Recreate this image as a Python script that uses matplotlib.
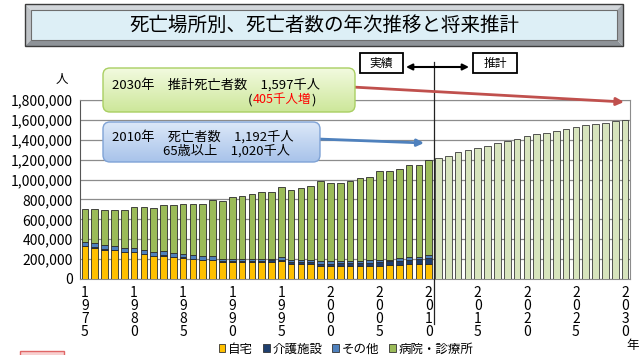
import numpy as np
import matplotlib.pyplot as plt
from matplotlib.patches import Rectangle, FancyBboxPatch, Patch, Polygon
from matplotlib.colors import LinearSegmentedColormap

plt.rcParams['font.family'] = ['Noto Sans CJK JP', 'DejaVu Sans']

# deaths by place (thousands), actual 1975-2010
years_actual = list(range(1975, 2011))
home = [327, 313, 293, 287, 267, 267, 250, 227, 233, 220, 213, 200, 187, 187, 173, 173, 173, 173,
        173, 173, 177, 153, 153, 153, 133, 133, 133, 133, 133, 133, 133, 140, 140, 147, 147, 153]
care = [5, 5, 5, 5, 5, 5, 5, 5, 5, 5, 6, 6, 7, 7, 8, 9, 10, 11,
        12, 14, 18, 18, 19, 20, 21, 22, 23, 25, 27, 30, 33, 36, 42, 48, 50, 55]
other = [41, 49, 42, 41, 35, 35, 32, 35, 39, 35, 28, 34, 33, 33, 19, 18, 17, 16,
         15, 13, 25, 22, 21, 17, 26, 25, 24, 22, 20, 24, 21, 14, 31, 25, 23, 32]
hospital = [329, 336, 350, 363, 383, 416, 433, 445, 463, 480, 505, 511, 524, 566, 589, 620, 630, 657,
            679, 676, 702, 703, 720, 746, 802, 782, 790, 802, 835, 842, 897, 894, 895, 922, 922, 957]

# projected total deaths (thousands), 2011-2030
years_proj = list(range(2011, 2031))
projected = [1220, 1240, 1274, 1297, 1320, 1340, 1365, 1388, 1408, 1435,
             1455, 1471, 1491, 1511, 1529, 1546, 1562, 1572, 1586, 1597]

series_names = ['自宅', '介護施設', 'その他', '病院・診療所']
series_colors = ['#FFC000', '#1F3F6E', '#4F81BD', '#9BBB59']
proj_color = '#D7E4BD'

yticks = list(range(0, 1800001, 200000))
xtick_years = list(range(1975, 2031, 5))

fig = plt.figure(figsize=(6.43, 3.55), dpi=100)
ax = fig.add_axes([80 / 643, 1 - 279 / 355, 550 / 643, 179 / 355])

bottom = np.zeros(len(years_actual))
for vals, col in zip([home, care, other, hospital], series_colors):
    v = np.array(vals) * 1000
    ax.bar(years_actual, v, bottom=bottom, width=0.68, color=col,
           edgecolor='#2b2b2b', linewidth=0.6, zorder=3)
    bottom += v
ax.bar(years_proj, np.array(projected) * 1000, width=0.68, color=proj_color,
       edgecolor='#3a3a3a', linewidth=0.6, zorder=3)

ax.set_xlim(1974.5, 2030.5)
ax.set_ylim(0, 1800000)
ax.set_yticks(yticks)
ax.set_yticklabels([f'{v:,}' for v in yticks], fontsize=10)
ax.set_xticks(xtick_years)
ax.set_xticklabels(['\n'.join(str(y)) for y in xtick_years], fontsize=10, linespacing=0.92)
ax.tick_params(length=0, pad=5)
ax.yaxis.grid(True, color='#8c8c8c', linewidth=0.9, zorder=0)
ax.set_axisbelow(True)
for s in ['top', 'right', 'bottom']:
    ax.spines[s].set_color('#8c8c8c')
ax.spines['left'].set_color('#555555')

# divider between actual and projection
ax.plot([2010.5, 2010.5], [-0.25, 1.215], transform=ax.get_xaxis_transform(),
        color='#222222', linewidth=0.9, clip_on=False, zorder=6)

leg = fig.legend(handles=[Patch(facecolor=c, edgecolor='#333333', linewidth=0.6, label=n)
                          for n, c in zip(series_names, series_colors)],
                 loc='center', bbox_to_anchor=(346 / 643, 1 - 349 / 355), ncol=4, frameon=False,
                 fontsize=9, handlelength=0.55, handleheight=0.55, handletextpad=0.2,
                 columnspacing=0.8, borderpad=0)

# overlay in pixel coordinates for the slide decorations
ov = fig.add_axes([0, 0, 1, 1], zorder=10)
ov.set_xlim(0, 643)
ov.set_ylim(355, 0)
ov.axis('off')


def grad_box(x0, y0, w, h, c_top, c_bot, edge):
    box = FancyBboxPatch((x0, y0), w, h, boxstyle='round,pad=0,rounding_size=7',
                         fc='none', ec=edge, lw=1.0, zorder=5)
    ov.add_patch(box)
    cmap = LinearSegmentedColormap.from_list('g', [c_top, c_bot])
    im = ov.imshow(np.linspace(0, 1, 64)[:, None], extent=(x0, x0 + w, y0 + h, y0),
                   cmap=cmap, aspect='auto', zorder=4)
    im.set_clip_path(box)


# title bar
ov.add_patch(Polygon([(25, 4), (623, 4), (617, 10), (31, 10)], fc='#D2D6DA', ec='none'))
ov.add_patch(Polygon([(25, 4), (31, 10), (31, 40), (25, 46)], fc='#BFC3C7', ec='none'))
ov.add_patch(Polygon([(25, 46), (31, 40), (617, 40), (623, 46)], fc='#8E9398', ec='none'))
ov.add_patch(Polygon([(623, 4), (623, 46), (617, 40), (617, 10)], fc='#A2A7AC', ec='none'))
ov.add_patch(Rectangle((31, 10), 586, 30, fc='#DDEFF6', ec='#6e6e6e', lw=0.8))
ov.add_patch(Rectangle((25, 4), 598, 42, fc='none', ec='#3c3c3c', lw=1.0))
ov.text(324, 25, '死亡場所別、死亡者数の年次推移と将来推計', fontsize=14,
        ha='center', va='center')

# actual / projection labels
ov.add_patch(Rectangle((360, 53), 43, 20, fc='white', ec='black', lw=1.3))
ov.add_patch(Rectangle((473, 53), 44, 20, fc='white', ec='black', lw=1.3))
ov.text(381.5, 63, '実績', fontsize=8.5, ha='center', va='center')
ov.text(495, 63, '推計', fontsize=8.5, ha='center', va='center')
ov.annotate('', xy=(469, 67), xytext=(406, 67),
            arrowprops=dict(arrowstyle='<|-|>', color='black', lw=1.5,
                            mutation_scale=9, shrinkA=0, shrinkB=0))

# callouts
ov.annotate('', xy=(624, 102), xytext=(352, 87),
            arrowprops=dict(arrowstyle='-|>', color='#C0504D', lw=2,
                            mutation_scale=11, shrinkA=0, shrinkB=0), zorder=3)
ov.annotate('', xy=(424, 143), xytext=(318, 139),
            arrowprops=dict(arrowstyle='-|>', color='#4F81BD', lw=2,
                            mutation_scale=10, shrinkA=0, shrinkB=0), zorder=3)

grad_box(103, 68, 252, 44, '#F2FADF', '#CDE79A', '#A9CF62')
ov.text(112, 85, '2030年　推計死亡者数　1,597千人', fontsize=9.5, ha='left', va='center', zorder=6)
ov.text(252, 100, '(', fontsize=9.5, ha='right', va='center', zorder=6)
ov.text(311, 100, '405千人増', fontsize=9, ha='right', va='center', color='#FF0000', zorder=6)
ov.text(316, 100, ')', fontsize=9.5, ha='right', va='center', zorder=6)

grad_box(103, 122, 217, 40, '#DCE8F8', '#A8C3EA', '#7FA3D6')
ov.text(112, 137, '2010年　死亡者数　1,192千人', fontsize=9.5, ha='left', va='center', zorder=6)
ov.text(163, 151, '65歳以上　1,020千人', fontsize=9.5, ha='left', va='center', zorder=6)

ov.text(62, 80, '人', fontsize=9, ha='center', va='center')
ov.text(633, 346, '年', fontsize=9, ha='center', va='center')
ov.add_patch(Rectangle((20, 351), 44, 10, fc='#F8D0D0', ec='#E06666', lw=1.0))

ov.set_xlim(0, 643)
ov.set_ylim(355, 0)

fig.savefig('out.png', dpi=100)
